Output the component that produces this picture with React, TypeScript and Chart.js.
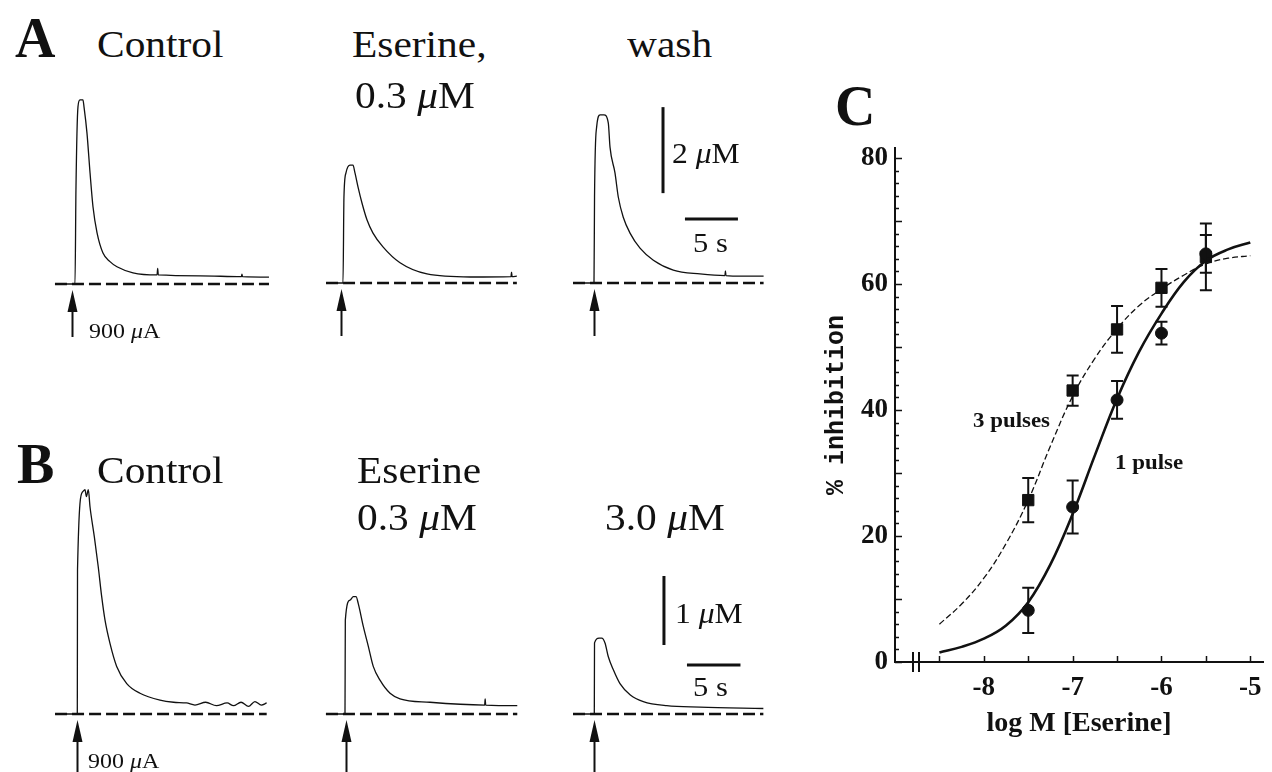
import React, { useEffect, useRef } from "react";
import { Chart, registerables } from "chart.js";

Chart.register(...registerables);

const SERIF = "'Liberation Serif','Times New Roman',Times,serif";
const MONO = "'Liberation Mono','Courier New',monospace";
const INK = "#111";

// ---------- Panel A traces: time (s, from stimulus), [DA] (µM) ----------
const ctrlA_t = [-1.89, 0, 0.09, 0.28, 0.47, 0.75, 0.85, 1.13, 1.42, 1.7, 2.08, 2.64, 3.3, 3.96, 5.47, 7.74, 7.8, 7.86, 11.8, 15.7, 15.75, 15.8, 18.3];
const ctrlA_v = [0, 0, 2.19, 4.12, 4.28, 4.28, 4.12, 3.51, 2.58, 1.79, 1.19, 0.72, 0.52, 0.4, 0.26, 0.21, 0.36, 0.21, 0.19, 0.17, 0.23, 0.17, 0.16];

const eserA_t = [-1.6, 0, 0.09, 0.28, 0.66, 0.94, 1.13, 1.42, 1.79, 2.26, 2.83, 3.77, 5.38, 7.92, 12.0, 15.85, 15.9, 15.95, 16.4];
const eserA_v = [0, 0, 2.0, 2.56, 2.74, 2.74, 2.56, 2.23, 1.86, 1.47, 1.16, 0.84, 0.47, 0.21, 0.14, 0.15, 0.25, 0.15, 0.16];

const washA_t = [-1.98, 0, 0.05, 0.25, 0.57, 0.94, 1.35, 1.51, 1.98, 2.29, 2.76, 3.4, 4.34, 5.6, 7.48, 10.0, 12.35, 12.4, 12.45, 13.1, 16.0];
const washA_v = [0, 0, 2.0, 3.63, 3.91, 3.91, 3.72, 3.16, 2.56, 2.0, 1.53, 1.16, 0.81, 0.53, 0.3, 0.21, 0.17, 0.28, 0.17, 0.16, 0.16];

// ---------- Panel B traces ----------
const ctrlB_t = [-2.08, 0, 0.02, 0.5, 0.72, 0.85, 1.03, 1.19, 1.59, 1.96, 2.28, 2.59, 3.06, 3.68, 4.62, 5.86, 7.73, 9.0, 10.2, 11.0, 12.0, 13.0, 14.0, 14.6, 15.3, 16.0, 16.6, 17.2, 17.7];
const ctrlB_v = [0, 0, 2.09, 3.22, 3.25, 3.15, 3.25, 3.0, 2.57, 2.13, 1.7, 1.36, 1.02, 0.69, 0.44, 0.3, 0.2, 0.17, 0.16, 0.13, 0.17, 0.12, 0.16, 0.12, 0.17, 0.11, 0.18, 0.13, 0.16];

const eserB_t = [-1.78, 0, 0.03, 0.47, 0.78, 1.03, 1.24, 1.71, 2.18, 2.64, 3.27, 4.21, 5.14, 7.94, 13.05, 13.1, 13.15, 16.1];
const eserB_v = [0, 0, 1.36, 1.65, 1.7, 1.7, 1.6, 1.27, 0.98, 0.69, 0.49, 0.3, 0.22, 0.17, 0.13, 0.22, 0.13, 0.12];

const highB_t = [-1.99, 0, 0.02, 0.44, 0.69, 1.0, 1.31, 1.78, 2.4, 3.34, 4.58, 6.77, 9.88, 15.8];
const highB_v = [0, 0, 1.03, 1.1, 1.1, 1.03, 0.83, 0.64, 0.44, 0.28, 0.18, 0.12, 0.1, 0.08];

// ---------- Panel C: dose-response ----------
const logConc = [-7.5, -7, -6.5, -6, -5.5];
const pulse1Mean = [8.2, 24.6, 41.6, 52.2, 64.8];
const pulse1Err = [3.6, 4.2, 3.0, 1.8, 3.0];
const pulse3Mean = [25.7, 43.1, 52.8, 59.4, 64.3];
const pulse3Err = [3.5, 2.4, 3.7, 3.0, 5.3];

const fitX = [-8.5, -8.25, -8, -7.75, -7.5, -7.25, -7, -6.75, -6.5, -6.25, -6, -5.75, -5.5, -5.25, -5];
const fit1Pulse = [1.5, 2.4, 3.7, 5.8, 9.5, 15.5, 23.5, 32.8, 41.8, 49.3, 55.3, 60.3, 63.7, 65.5, 66.6];
const fit3Pulse = [6.0, 9.2, 13.3, 18.8, 25.7, 34.3, 42.2, 48.2, 52.9, 56.6, 59.2, 61.4, 63.2, 64.1, 64.5];

const xTickLabels = [-8, -7, -6, -5];
const yTickLabels = [0, 20, 40, 60, 80];

// ---------- layout of trace panels ----------
type Bar = { t: number; v0: number; size: number; ht0: number; hv: number; hs: number };
type Spec = {
  t: number[]; v: number[]; stimX: number; baseY: number; pxS: number; pxU: number;
  arrowT: number; arrowLen: number; topOff: number; botOff: number; bar?: Bar;
};

const SPECS: Spec[] = [
  { t: ctrlA_t, v: ctrlA_v, stimX: 75, baseY: 284, pxS: 10.6, pxU: 43, arrowT: -0.28, arrowLen: 47, topOff: 196, botOff: 62 },
  { t: eserA_t, v: eserA_v, stimX: 343, baseY: 283, pxS: 10.6, pxU: 43, arrowT: -0.22, arrowLen: 47, topOff: 195, botOff: 62 },
  { t: washA_t, v: washA_v, stimX: 594, baseY: 283, pxS: 10.6, pxU: 43, arrowT: 0, arrowLen: 47, topOff: 195, botOff: 62,
    bar: { t: 6.51, v0: 2.09, size: 2, ht0: 8.58, hv: 1.49, hs: 5 } },
  { t: ctrlB_t, v: ctrlB_v, stimX: 77.3, baseY: 714, pxS: 10.7, pxU: 69, arrowT: 0, arrowLen: 60, topOff: 270, botOff: 58 },
  { t: eserB_t, v: eserB_v, stimX: 345, baseY: 714, pxS: 10.7, pxU: 69, arrowT: 0.05, arrowLen: 60, topOff: 270, botOff: 58 },
  { t: highB_t, v: highB_v, stimX: 594.3, baseY: 714, pxS: 10.7, pxU: 69, arrowT: 0, arrowLen: 60, topOff: 270, botOff: 58,
    bar: { t: 6.51, v0: 1.0, size: 1, ht0: 8.66, hv: 0.71, hs: 5 } },
];

const arrowPlugin = {
  id: "stimArrow",
  afterDatasetsDraw(chart: any, _a: any, opts: any) {
    if (!opts || opts.t == null) return;
    const { ctx, scales } = chart;
    const x = Math.round(scales.x.getPixelForValue(opts.t)) + 0.5;
    const tip = scales.y.getPixelForValue(0) + 6;
    ctx.save();
    ctx.strokeStyle = INK;
    ctx.fillStyle = INK;
    ctx.lineWidth = 2;
    ctx.beginPath();
    ctx.moveTo(x, tip + 12);
    ctx.lineTo(x, tip + opts.len);
    ctx.stroke();
    ctx.beginPath();
    ctx.moveTo(x, tip);
    ctx.lineTo(x - 5, tip + 22);
    ctx.lineTo(x + 5, tip + 22);
    ctx.closePath();
    ctx.fill();
    ctx.restore();
  },
};

function TraceChart({ spec }: { spec: Spec }) {
  const ref = useRef<HTMLCanvasElement>(null);
  const L = Math.round(spec.stimX - 26);
  const R = Math.round(spec.stimX + 200);
  const T = Math.round(spec.baseY - spec.topOff);
  const B = Math.round(spec.baseY + spec.botOff);
  const W = R - L;
  const H = B - T;
  useEffect(() => {
    if (!ref.current) return;
    const trace = spec.t.map((t, i) => ({ x: t, y: spec.v[i] }));
    const base = [
      { x: spec.t[0], y: 0 },
      { x: spec.t[spec.t.length - 1], y: 0 },
    ];
    const datasets: any[] = [
      { data: base, borderColor: INK, borderWidth: 2.3, borderDash: [12, 5], pointRadius: 0, tension: 0 },
      { data: trace, borderColor: INK, borderWidth: 1.3, pointRadius: 0, cubicInterpolationMode: "monotone" },
    ];
    if (spec.bar) {
      const b = spec.bar;
      datasets.push({ data: [{ x: b.t, y: b.v0 }, { x: b.t, y: b.v0 + b.size }], borderColor: INK, borderWidth: 3, pointRadius: 0 });
      datasets.push({ data: [{ x: b.ht0, y: b.hv }, { x: b.ht0 + b.hs, y: b.hv }], borderColor: INK, borderWidth: 3, pointRadius: 0 });
    }
    const chart = new Chart(ref.current, {
      type: "line",
      data: { datasets },
      options: {
        animation: false,
        responsive: false,
        maintainAspectRatio: false,
        events: [],
        layout: { padding: 0 },
        plugins: {
          legend: { display: false },
          tooltip: { enabled: false },
          stimArrow: { t: spec.arrowT, len: spec.arrowLen },
        } as any,
        scales: {
          x: { type: "linear", display: false, min: (L - spec.stimX) / spec.pxS, max: (R - spec.stimX) / spec.pxS },
          y: { type: "linear", display: false, min: (spec.baseY - B) / spec.pxU, max: (spec.baseY - T) / spec.pxU },
        },
      },
      plugins: [arrowPlugin],
    });
    return () => chart.destroy();
  }, []);
  return (
    <canvas
      ref={ref}
      width={W}
      height={H}
      style={{ position: "absolute", left: L, top: T, width: W, height: H }}
    />
  );
}

// ---------- dose-response chart ----------
const errorBarPlugin = {
  id: "errBars",
  afterDatasetsDraw(chart: any) {
    const { ctx, scales } = chart;
    chart.data.datasets.forEach((ds: any, i: number) => {
      if (!ds.errors) return;
      const meta = chart.getDatasetMeta(i);
      ctx.save();
      ctx.strokeStyle = INK;
      ctx.lineWidth = 2;
      meta.data.forEach((pt: any, j: number) => {
        const v = ds.data[j].y;
        const e = ds.errors[j];
        const x = pt.x;
        const yt = scales.y.getPixelForValue(v + e);
        const yb = scales.y.getPixelForValue(v - e);
        ctx.beginPath();
        ctx.moveTo(x, yt);
        ctx.lineTo(x, yb);
        ctx.moveTo(x - 6, yt);
        ctx.lineTo(x + 6, yt);
        ctx.moveTo(x - 6, yb);
        ctx.lineTo(x + 6, yb);
        ctx.stroke();
      });
      ctx.restore();
    });
  },
};

const innerTicksPlugin = {
  id: "innerTicks",
  afterDraw(chart: any) {
    const { ctx, scales, chartArea } = chart;
    ctx.save();
    ctx.strokeStyle = INK;
    ctx.lineWidth = 1.5;
    ctx.beginPath();
    for (let v = 0; v <= 80; v += 2) {
      const y = Math.round(scales.y.getPixelForValue(v)) + 0.5;
      const len = v % 10 === 0 ? 7 : 4;
      ctx.moveTo(chartArea.left, y);
      ctx.lineTo(chartArea.left + len, y);
    }
    for (let k = -8.5; k <= -5; k += 0.5) {
      const x = Math.round(scales.x.getPixelForValue(k)) + 0.5;
      ctx.moveTo(x, chartArea.bottom);
      ctx.lineTo(x, chartArea.bottom - 6);
    }
    ctx.stroke();
    // axis break
    ctx.lineWidth = 2;
    ctx.beginPath();
    const y0 = scales.y.getPixelForValue(0);
    [-8.8, -8.725].forEach((b) => {
      const x = Math.round(scales.x.getPixelForValue(b));
      ctx.moveTo(x, y0 - 10);
      ctx.lineTo(x, y0 + 10);
    });
    ctx.stroke();
    ctx.restore();
  },
};

function DoseChart() {
  const ref = useRef<HTMLCanvasElement>(null);
  useEffect(() => {
    if (!ref.current) return;
    const tickFont = { family: SERIF, size: 27, weight: "bold" as const };
    const chart = new Chart(ref.current, {
      type: "scatter",
      data: {
        datasets: [
          {
            type: "line",
            data: fitX.map((x, i) => ({ x, y: fit1Pulse[i] })),
            borderColor: INK,
            borderWidth: 2.6,
            pointRadius: 0,
            tension: 0.4,
          } as any,
          {
            type: "line",
            data: fitX.map((x, i) => ({ x, y: fit3Pulse[i] })),
            borderColor: INK,
            borderWidth: 1.3,
            borderDash: [6, 3],
            pointRadius: 0,
            tension: 0.4,
          } as any,
          {
            data: logConc.map((x, i) => ({ x, y: pulse1Mean[i] })),
            errors: pulse1Err,
            pointStyle: "circle",
            pointRadius: 6,
            backgroundColor: INK,
            borderColor: INK,
          } as any,
          {
            data: logConc.map((x, i) => ({ x, y: pulse3Mean[i] })),
            errors: pulse3Err,
            pointStyle: "rect",
            pointRadius: 8,
            backgroundColor: INK,
            borderColor: INK,
          } as any,
        ],
      },
      options: {
        animation: false,
        responsive: false,
        maintainAspectRatio: false,
        events: [],
        layout: { padding: { top: 68, left: 0, right: 0, bottom: 0 } },
        plugins: { legend: { display: false }, tooltip: { enabled: false } },
        scales: {
          x: {
            type: "linear",
            min: -9,
            max: -4.857,
            afterFit: (s: any) => {
              s.height = 110;
            },
            ticks: {
              stepSize: 1,
              includeBounds: false,
              autoSkip: false,
              maxRotation: 0,
              padding: 10,
              color: INK,
              font: tickFont,
              callback: (v: any) => (xTickLabels.includes(Number(v)) ? String(v) : ""),
            },
            grid: { display: true, drawOnChartArea: false, drawTicks: false },
            border: { display: true, color: INK, width: 2 },
            title: {
              display: true,
              text: "log M [Eserine]",
              color: INK,
              font: { family: SERIF, size: 28, weight: "bold" },
              padding: { top: 0, bottom: 31 },
            },
          },
          y: {
            type: "linear",
            min: 0,
            max: 81.6,
            afterFit: (s: any) => {
              s.width = 115;
            },
            ticks: {
              stepSize: 20,
              includeBounds: false,
              autoSkip: false,
              padding: 7,
              color: INK,
              font: tickFont,
              callback: (v: any) => (yTickLabels.includes(Number(v)) ? String(v) : ""),
            },
            grid: { display: true, drawOnChartArea: false, drawTicks: false },
            border: { display: true, color: INK, width: 2 },
            title: {
              display: true,
              text: "% inhibition",
              color: INK,
              font: { family: MONO, size: 25, weight: "bold" },
              padding: { top: 42, bottom: 0 },
            },
          },
        },
      },
      plugins: [errorBarPlugin, innerTicksPlugin],
    });
    return () => chart.destroy();
  }, []);
  return (
    <canvas
      ref={ref}
      width={492}
      height={692}
      style={{ position: "absolute", left: 780, top: 80, width: 492, height: 692 }}
    />
  );
}

// ---------- text labels ----------
type Lbl = { s: string; x: number; y: number; size: number; bold?: boolean; sx?: number };
const LABELS: Lbl[] = [
  { s: "A", x: 15, y: 10, size: 56, bold: true, sx: 1 },
  { s: "Control", x: 97, y: 25, size: 38 },
  { s: "Eserine,", x: 352, y: 25, size: 38 },
  { s: "0.3 μM", x: 355, y: 76, size: 38 },
  { s: "wash", x: 627, y: 25, size: 38 },
  { s: "2 μM", x: 672, y: 139, size: 29 },
  { s: "5 s", x: 693, y: 229, size: 28 },
  { s: "900 μA", x: 89, y: 320, size: 22 },
  { s: "B", x: 17, y: 436, size: 56, bold: true, sx: 1 },
  { s: "Control", x: 97, y: 451, size: 38 },
  { s: "Eserine", x: 357, y: 451, size: 38 },
  { s: "0.3 μM", x: 357, y: 498, size: 38 },
  { s: "3.0 μM", x: 605, y: 498, size: 38 },
  { s: "1 μM", x: 675, y: 599, size: 29 },
  { s: "5 s", x: 693, y: 673, size: 28 },
  { s: "900 μA", x: 88, y: 750, size: 22 },
  { s: "C", x: 835, y: 78, size: 56, bold: true, sx: 1 },
  { s: "3 pulses", x: 973, y: 410, size: 21, bold: true },
  { s: "1 pulse", x: 1115, y: 452, size: 21, bold: true },
];

function Label({ l }: { l: Lbl }) {
  const parts = l.s.split("μ");
  return (
    <div
      style={{
        position: "absolute",
        left: l.x,
        top: l.y,
        fontFamily: SERIF,
        fontSize: l.size,
        fontWeight: l.bold ? 700 : 400,
        lineHeight: 1,
        whiteSpace: "nowrap",
        color: INK,
        transform: `scaleX(${l.sx ?? 1.09})`,
        transformOrigin: "left top",
      }}
    >
      {parts.map((p, i) => (
        <React.Fragment key={i}>
          {i > 0 && <i>μ</i>}
          {p}
        </React.Fragment>
      ))}
    </div>
  );
}

export default function App() {
  return (
    <div
      style={{
        position: "absolute",
        left: 0,
        top: 0,
        width: 1272,
        height: 772,
        overflow: "hidden",
        background: "#fff",
      }}
    >
      {SPECS.map((s, i) => (
        <TraceChart key={i} spec={s} />
      ))}
      <DoseChart />
      {LABELS.map((l, i) => (
        <Label key={i} l={l} />
      ))}
    </div>
  );
}
